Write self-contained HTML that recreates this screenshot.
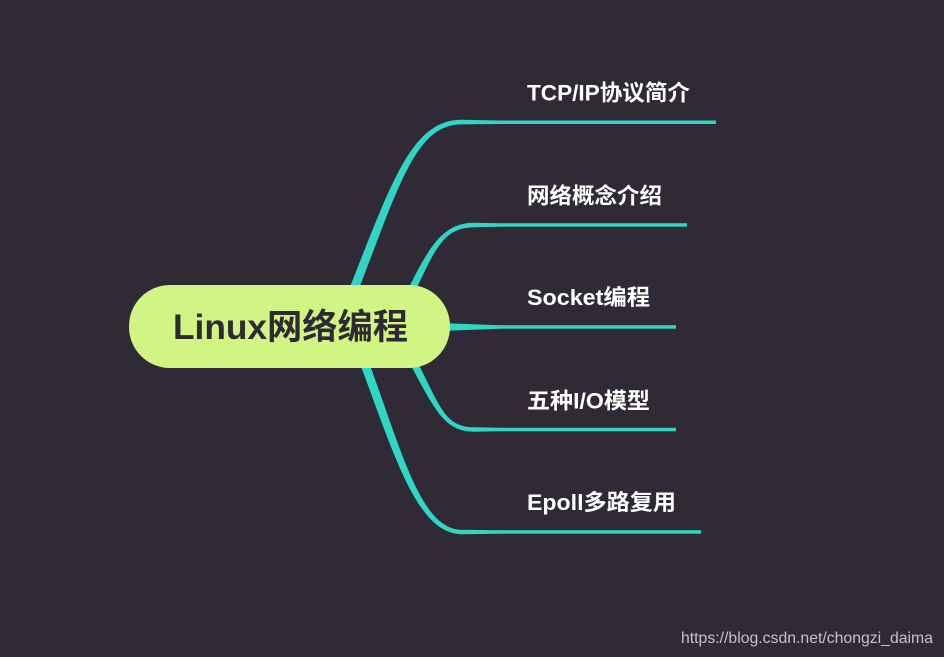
<!DOCTYPE html>
<html>
<head>
<meta charset="utf-8">
<style>
  html, body { margin: 0; padding: 0; background: #2f2a35; }
  body { width: 944px; height: 657px; overflow: hidden; }
  svg { display: block; }
  .br { font-family: "Liberation Sans", "Noto Sans CJK SC", sans-serif; font-weight: bold; font-size: 22px; fill: #ffffff; }
</style>
</head>
<body>
<svg width="944" height="657" viewBox="0 0 944 657" xmlns="http://www.w3.org/2000/svg">
  <rect x="0" y="0" width="944" height="657" fill="#2f2a35"/>

  <g fill="#2ed6c3">
    <!-- curve 1 (top) -->
    <path d="M343.2,328.7 C398.2,191.7 412,124.4 462,124.4 L462,119.8 C408,119.8 389.8,188.3 334.8,325.3 Z"/>
    <path d="M461,119.8 L500,120.5 L500,124 L461,124.4 Z"/>
    <rect x="499" y="120.5" width="217" height="3.5"/>

    <!-- curve 2 -->
    <path d="M398.6,328.7 C433.6,251.7 440,227.2 475,227.2 L475,222.8 C440,222.8 426.4,248.3 391.4,325.3 Z"/>
    <path d="M474,222.8 L500,223.2 L500,226.7 L474,227.2 Z"/>
    <rect x="499" y="223.2" width="188" height="3.5"/>

    <!-- curve 3 (middle) -->
    <path d="M440,323 L500,325.2 L500,328.7 L440,331 Z"/>
    <rect x="499" y="325.2" width="177" height="3.5"/>

    <!-- curve 4 -->
    <path d="M398.5,325.1 C440.5,402.1 440,427.3 475,427.3 L475,431.7 C440,431.7 433.5,405.9 391.5,328.9 Z"/>
    <path d="M474,427.3 L500,427.8 L500,431.3 L474,431.7 Z"/>
    <rect x="499" y="427.8" width="177" height="3.5"/>

    <!-- curve 5 (bottom) -->
    <path d="M356.2,328.4 C399.2,438.4 417,529.8 462,529.8 L462,534.2 C413,534.2 390.8,441.6 347.8,331.6 Z"/>
    <path d="M461,529.8 L500,530.2 L500,533.7 L461,534.2 Z"/>
    <rect x="499" y="530.2" width="202" height="3.5"/>
  </g>

  <!-- central node -->
  <rect x="129" y="285" width="321" height="83" rx="41" ry="41" fill="#d1f583"/>
  <text x="173" y="339" font-family="'Liberation Sans', 'Noto Sans CJK SC', sans-serif" font-weight="bold" font-size="35" fill="#2e2935" textLength="235" lengthAdjust="spacingAndGlyphs">Linux网络编程</text>

  <!-- branch labels -->
  <text class="br" x="527" y="100.7" textLength="163" lengthAdjust="spacingAndGlyphs">TCP/IP协议简介</text>
  <text class="br" x="527" y="203.5" textLength="135" lengthAdjust="spacingAndGlyphs">网络概念介绍</text>
  <text class="br" x="527" y="305" textLength="123" lengthAdjust="spacingAndGlyphs">Socket编程</text>
  <text class="br" x="527" y="408.5" textLength="123" lengthAdjust="spacingAndGlyphs">五种I/O模型</text>
  <text class="br" x="527" y="510" textLength="149" lengthAdjust="spacingAndGlyphs">Epoll多路复用</text>

  <!-- watermark -->
  <text x="681" y="643" font-family="'Liberation Sans', sans-serif" font-size="16" fill="#c4c4c4" textLength="252" lengthAdjust="spacingAndGlyphs">https://blog.csdn.net/chongzi_daima</text>
</svg>
</body>
</html>
